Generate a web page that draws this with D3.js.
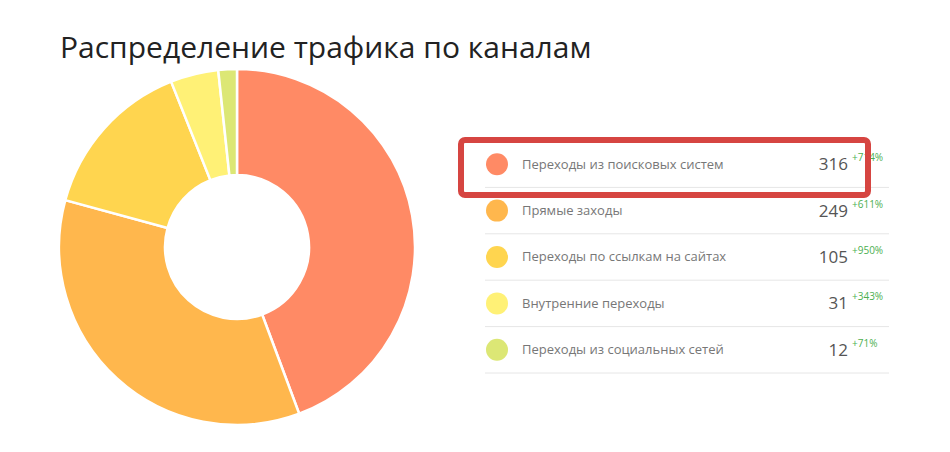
<!DOCTYPE html>
<html><head><meta charset="utf-8">
<script src="https://cdn.jsdelivr.net/npm/d3@7"></script>
<style>body{margin:0;background:#fff}svg{display:block}</style>
</head><body>
<svg id="chart" width="950" height="452"></svg>
<script>
var channels = ["Переходы из поисковых систем", "Прямые заходы", "Переходы по ссылкам на сайтах", "Внутренние переходы", "Переходы из социальных сетей"];
var visits = [316, 249, 105, 31, 12];
var growth = ["+714%", "+611%", "+950%", "+343%", "+71%"];
var colors = ["#ff8a65", "#ffb74d", "#ffd54f", "#fff176", "#dce775"];

var svg = d3.select("#chart");
svg.append("text").attr("x", 60).attr("y", 58)
    .attr("font-family", "Open Sans").attr("font-size", 30).attr("fill", "#222")
    .text("Распределение трафика по каналам");

// donut
var pie = d3.pie().sort(null)(visits);
var arc = d3.arc().innerRadius(72).outerRadius(178);
svg.append("g").attr("transform", "translate(237,247)")
    .selectAll("path").data(pie).enter().append("path")
    .attr("d", arc)
    .attr("fill", function(d, i) { return colors[i]; })
    .attr("stroke", "#fff").attr("stroke-width", 2.5);

// legend
var y = d3.scaleBand().domain(d3.range(channels.length)).range([141, 373]);
var rows = svg.append("g").selectAll("g").data(channels).enter().append("g")
    .attr("transform", function(d, i) { return "translate(0," + y(i) + ")"; });
var h = y.bandwidth();
rows.append("line").attr("x1", 485).attr("x2", 889).attr("y1", h).attr("y2", h)
    .attr("stroke", "#e6e6e6");
rows.append("circle").attr("cx", 497).attr("cy", h / 2).attr("r", 11)
    .attr("fill", function(d, i) { return colors[i]; });
rows.append("text").attr("x", 522).attr("y", h / 2 + 4.5)
    .attr("font-family", "Open Sans").attr("font-size", 13).attr("fill", "#777")
    .text(function(d) { return d; });
rows.append("text").attr("x", 848).attr("y", h / 2 + 6).attr("text-anchor", "end")
    .attr("font-family", "Open Sans").attr("font-size", 17).attr("fill", "#555")
    .text(function(d, i) { return visits[i]; });
rows.append("text").attr("x", 852).attr("y", h / 2 - 3)
    .attr("font-family", "Open Sans").attr("font-size", 10).attr("fill", "#4caf50")
    .text(function(d, i) { return growth[i]; });

// highlight box
svg.append("rect").attr("x", 461).attr("y", 140).attr("width", 407).attr("height", 55)
    .attr("rx", 4).attr("fill", "none").attr("stroke", "#d64541").attr("stroke-width", 6);
</script>
</body></html>
